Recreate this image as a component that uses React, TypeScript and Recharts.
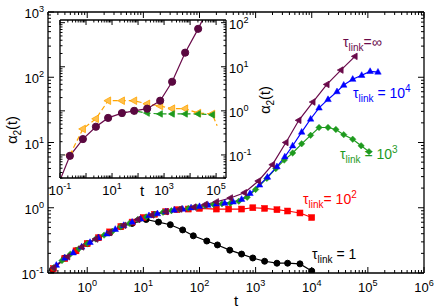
import { LineChart, Line, XAxis, YAxis } from 'recharts'

const FONT = '"Liberation Sans", Arial, Helvetica, sans-serif'

// main panel, values read as log10(t) / log10(alpha2)
const tau1LogT = [-0.62, -0.4, -0.2, 0, 0.2, 0.4, 0.6, 0.8, 1.05, 1.27, 1.48, 1.7, 1.89, 2.13, 2.32, 2.54, 2.75, 2.95, 3.16, 3.38, 3.57, 3.79, 4.0]
const tau1LogA = [-0.95, -0.77, -0.66, -0.55, -0.46, -0.38, -0.29, -0.24, -0.18, -0.22, -0.26, -0.34, -0.43, -0.51, -0.57, -0.65, -0.71, -0.77, -0.82, -0.85, -0.85, -0.86, -0.97]

const tau100LogT = [-0.6, -0.4, -0.2, 0, 0.2, 0.4, 0.6, 0.8, 1.0, 1.2, 1.4, 1.6, 1.8, 2.0, 2.3, 2.52, 2.75, 2.95, 3.16, 3.38, 3.57, 3.79, 4.0]
const tau100LogA = [-0.93, -0.78, -0.66, -0.55, -0.46, -0.37, -0.29, -0.22, -0.15, -0.1, -0.06, -0.03, -0.02, -0.01, -0.02, -0.02, -0.02, 0.0, -0.01, -0.03, -0.05, -0.08, -0.15]

const tau1000LogT = [-0.6, -0.45, -0.3, -0.15, 0, 0.15, 0.3, 0.45, 0.6, 0.75, 0.9, 1.05, 1.2, 1.35, 1.5, 1.65, 1.8, 1.95, 2.1, 2.25, 2.4, 2.55, 2.7, 2.85, 3.0, 3.2, 3.36, 3.51, 3.66, 3.82, 3.98, 4.13, 4.29, 4.43, 4.57, 4.73, 4.88, 5.02]
const tau1000LogA = [-0.92, -0.81, -0.71, -0.63, -0.55, -0.48, -0.42, -0.36, -0.29, -0.24, -0.18, -0.14, -0.1, -0.07, -0.045, -0.025, -0.01, 0.01, 0.03, 0.05, 0.06, 0.07, 0.1, 0.16, 0.28, 0.45, 0.6, 0.73, 0.84, 0.98, 1.11, 1.23, 1.23, 1.2, 1.12, 1.05, 0.95, 0.86]

const tau1e4LogT = [-0.55, -0.4, -0.25, -0.1, 0.05, 0.2, 0.35, 0.5, 0.65, 0.8, 0.95, 1.1, 1.25, 1.4, 1.55, 1.7, 1.85, 2.0, 2.15, 2.3, 2.45, 2.6, 2.75, 2.9, 3.07, 3.21, 3.38, 3.52, 3.66, 3.82, 3.98, 4.13, 4.29, 4.45, 4.57, 4.73, 4.89, 5.04, 5.18]
const tau1e4LogA = [-0.88, -0.77, -0.69, -0.6, -0.53, -0.46, -0.4, -0.33, -0.27, -0.22, -0.17, -0.12, -0.09, -0.06, -0.035, -0.02, 0.0, 0.02, 0.04, 0.06, 0.07, 0.09, 0.13, 0.22, 0.35, 0.47, 0.63, 0.78, 0.95, 1.16, 1.36, 1.53, 1.66, 1.78, 1.88, 1.97, 2.03, 2.09, 2.08]

const tauInfLogT = [-0.6, -0.35, -0.1, 0.15, 0.4, 0.65, 0.9, 1.15, 1.4, 1.65, 1.9, 2.1, 2.3, 2.55, 2.8, 3.05, 3.3, 3.54, 3.77, 4.02, 4.27, 4.52, 4.77]
const tauInfLogA = [-0.92, -0.75, -0.6, -0.48, -0.38, -0.27, -0.18, -0.11, -0.06, -0.02, 0.01, 0.05, 0.09, 0.15, 0.23, 0.41, 0.66, 1.0, 1.34, 1.62, 1.89, 2.11, 2.32]

// inset
const insetMaroonLogT = [-1.12, -0.62, -0.12, 0.38, 0.85, 1.38, 1.85, 2.35, 2.85, 3.31, 3.81, 4.31, 4.8]
const insetMaroonLogA = [-1.75, -1.02, -0.64, -0.36, -0.16, -0.05, 0.0, 0.05, 0.23, 0.66, 1.32, 1.86, 2.45]
const insetOrangeLogT = [-0.62, -0.12, 0.38, 0.85, 1.38, 1.85, 2.35, 2.85, 3.31, 3.81, 4.31, 4.85, 5.04]
const insetOrangeLogA = [-1.0, -0.41, -0.18, 0.23, 0.23, 0.23, 0.16, 0.11, 0.05, 0.05, -0.05, -0.07, -0.34]
const insetGreenLogT = [1.38, 1.85, 2.35, 2.85, 3.31, 3.81, 4.31, 4.85]
const insetGreenLogA = [-0.05, 0.0, -0.05, -0.07, -0.07, -0.07, -0.07, -0.09]

// axes
const mainXDomain = [0.2, 1e6]
const mainYDomain = [0.1, 1000]
const mainXLabels = [0, 1, 2, 3, 4, 5, 6]
const mainYLabels = [-1, 0, 1, 2, 3]
const insetXDomain = [0.1, 2.4e5]
const insetYDomain = [0.03, 115]
const insetXLabels = [-1, 1, 3, 5]
const insetYLabels = [-1, 0, 1, 2]

const MAROON = '#6a0a4a'
const GREEN = '#1e9a1e'
const ORANGE = '#ffa500'

const pts = (lt: number[], la: number[]) => lt.map((v, i) => ({ t: 10 ** v, a: 10 ** la[i] }))

function logTicks(dom: number[]) {
  const out: number[] = []
  const lo = Math.floor(Math.log10(dom[0]))
  const hi = Math.ceil(Math.log10(dom[1]))
  for (let e = lo; e <= hi; e++) for (let m = 1; m <= 9; m++) {
    const v = m * 10 ** e
    if (v >= dom[0] * 0.999 && v <= dom[1] * 1.001) out.push(v)
  }
  return out
}

const expOf = (v: number) => Math.round(Math.log10(v))
const isMajor = (v: number) => Math.abs(Math.log10(v) - expOf(v)) < 1e-6

function Pow({ x, y, e, anchor, size }: { x: number; y: number; e: number; anchor: string; size: number }) {
  return (
    <text x={x} y={y} textAnchor={anchor} fontFamily={FONT} fontSize={size} fill="#000">
      10<tspan dy={-size * 0.45} fontSize={size * 0.7}>{e}</tspan>
    </text>
  )
}

type Side = 'bottom' | 'top' | 'left' | 'right'
function tickFn(side: Side, labels: number[], big: number, small: number, size: number, off: number) {
  return (p: any) => {
    const v = p.payload.value
    const maj = isMajor(v)
    const len = maj ? big : small
    const { x, y } = p
    let line
    if (side === 'bottom') line = <line x1={x} x2={x} y1={y} y2={y - len} stroke="#000" />
    else if (side === 'top') line = <line x1={x} x2={x} y1={y} y2={y + len} stroke="#000" />
    else if (side === 'left') line = <line x1={x} x2={x + len} y1={y} y2={y} stroke="#000" />
    else line = <line x1={x} x2={x - len} y1={y} y2={y} stroke="#000" />
    const show = maj && labels.includes(expOf(v))
    let label = null
    if (show) {
      if (side === 'bottom') label = <Pow x={x} y={y + off} e={expOf(v)} anchor="middle" size={size} />
      else if (side === 'left') label = <Pow x={x - off} y={y + 6} e={expOf(v)} anchor="end" size={size} />
      else if (side === 'right') label = <Pow x={x + off} y={y + 6} e={expOf(v)} anchor="start" size={size} />
    }
    return <g>{line}{label}</g>
  }
}

type Shape = 'circle' | 'square' | 'diamond' | 'triUp' | 'triLeft'
function marker(shape: Shape, color: string, s: number, fill?: string, skipLast?: number) {
  return (p: any) => {
    const { cx, cy, index } = p
    const k = `m-${index}`
    if (cx == null || cy == null || (skipLast != null && index >= skipLast)) return <g key={k} />
    const f = fill ?? color
    if (shape === 'circle') return <circle key={k} cx={cx} cy={cy} r={s} fill={f} stroke={color} />
    if (shape === 'square') return <rect key={k} x={cx - s} y={cy - s} width={2 * s} height={2 * s} fill={f} stroke={color} strokeWidth={0.5} />
    if (shape === 'diamond') return <polygon key={k} points={`${cx},${cy - s} ${cx + s},${cy} ${cx},${cy + s} ${cx - s},${cy}`} fill={f} stroke={color} strokeWidth={0.5} />
    if (shape === 'triUp') return <polygon key={k} points={`${cx},${cy - s} ${cx + s * 0.9},${cy + s * 0.6} ${cx - s * 0.9},${cy + s * 0.6}`} fill={f} stroke={color} strokeWidth={0.5} />
    return <polygon key={k} points={`${cx - s},${cy} ${cx + s * 0.6},${cy - s * 0.9} ${cx + s * 0.6},${cy + s * 0.9}`} fill={f} stroke={color} strokeWidth={0.8} />
  }
}

const axisLine = { stroke: '#000', strokeWidth: 1.3 }

function Tau({ x, y, color, tail, sup }: { x: number; y: number; color: string; tail: string; sup?: string }) {
  return (
    <text x={x} y={y} fontFamily={FONT} fontSize={14} fill={color}>
      τ<tspan dy={4} fontSize={10}>link</tspan>
      <tspan dy={-4}>{tail}</tspan>
      {sup && <tspan dy={-6} fontSize={10}>{sup}</tspan>}
    </text>
  )
}

export default function App() {
  const mxT = logTicks(mainXDomain)
  const myT = logTicks(mainYDomain)
  const ixT = logTicks(insetXDomain)
  const iyT = logTicks(insetYDomain)
  const box = { position: 'absolute' as const, left: 0, top: 0 }
  const orange = pts(insetOrangeLogT, insetOrangeLogA)
  const maroonInset = pts(insetMaroonLogT, insetMaroonLogA)
  const tauInf = pts(tauInfLogT, tauInfLogA)
  return (
    <div style={{ ...box, width: 436, height: 308, background: '#fff' }}>
      <div style={box}>
        <LineChart width={436} height={308} margin={{ top: 11, right: 11, bottom: 0, left: 0 }}>
          <XAxis dataKey="t" type="number" scale="log" domain={mainXDomain} allowDataOverflow ticks={mxT} interval={0}
            height={35} tickSize={0} tickMargin={0} tickLine={false} axisLine={axisLine}
            tick={tickFn('bottom', mainXLabels, 6, 3, 13, 19)} />
          <XAxis xAxisId="top" orientation="top" dataKey="t" type="number" scale="log" domain={mainXDomain} allowDataOverflow ticks={mxT} interval={0}
            height={1} tickSize={0} tickMargin={0} tickLine={false} axisLine={axisLine}
            tick={tickFn('top', [], 6, 3, 13, 0)} />
          <YAxis dataKey="a" type="number" scale="log" domain={mainYDomain} allowDataOverflow ticks={myT} interval={0}
            width={48} tickSize={0} tickMargin={0} tickLine={false} axisLine={axisLine}
            tick={tickFn('left', mainYLabels, 6, 3, 13, 4)} />
          <YAxis yAxisId="right" orientation="right" dataKey="a" type="number" scale="log" domain={mainYDomain} allowDataOverflow ticks={myT} interval={0}
            width={1} tickSize={0} tickMargin={0} tickLine={false} axisLine={axisLine}
            tick={tickFn('right', [], 6, 3, 13, 0)} />
          {/* invisible twin so the mirrored top/right axes get drawn */}
          <Line data={tauInf} xAxisId="top" yAxisId="right" dataKey="a" stroke="none" dot={false} isAnimationActive={false} />
          <Line data={pts(tau1LogT, tau1LogA)} dataKey="a" stroke="#000" strokeWidth={1.2} dot={marker('circle', '#000', 3)} isAnimationActive={false} />
          <Line data={pts(tau100LogT, tau100LogA)} dataKey="a" stroke="#ff0000" strokeWidth={1.2} dot={marker('square', '#ff0000', 3)} isAnimationActive={false} />
          <Line data={pts(tau1000LogT, tau1000LogA)} dataKey="a" stroke={GREEN} strokeWidth={1.2} dot={marker('diamond', GREEN, 3.2)} isAnimationActive={false} />
          <Line data={pts(tau1e4LogT, tau1e4LogA)} dataKey="a" stroke="#0000ff" strokeWidth={1.2} dot={marker('triUp', '#0000ff', 3.6)} isAnimationActive={false} />
          <Line data={tauInf} dataKey="a" stroke={MAROON} strokeWidth={1.2} dot={marker('triLeft', MAROON, 3.6)} isAnimationActive={false} />
        </LineChart>
      </div>
      <div style={box}>
        <LineChart width={436} height={308} margin={{ top: 19, right: 209, bottom: 0, left: 0 }}>
          <XAxis dataKey="t" type="number" scale="log" domain={insetXDomain} allowDataOverflow ticks={ixT} interval={0}
            height={130} tickSize={0} tickMargin={0} tickLine={false} axisLine={axisLine}
            tick={tickFn('bottom', insetXLabels, 5, 2.5, 13, 17)} />
          <XAxis xAxisId="top" orientation="top" dataKey="t" type="number" scale="log" domain={insetXDomain} allowDataOverflow ticks={ixT} interval={0}
            height={1} tickSize={0} tickMargin={0} tickLine={false} axisLine={axisLine}
            tick={tickFn('top', [], 5, 2.5, 13, 0)} />
          <YAxis dataKey="a" type="number" scale="log" domain={insetYDomain} allowDataOverflow ticks={iyT} interval={0}
            width={60} tickSize={0} tickMargin={0} tickLine={false} axisLine={axisLine}
            tick={tickFn('left', [], 5, 2.5, 13, 0)} />
          <YAxis yAxisId="right" orientation="right" dataKey="a" type="number" scale="log" domain={insetYDomain} allowDataOverflow ticks={iyT} interval={0}
            width={1} tickSize={0} tickMargin={0} tickLine={false} axisLine={axisLine}
            tick={tickFn('right', insetYLabels, 5, 2.5, 13, 3)} />
          <Line data={maroonInset} xAxisId="top" yAxisId="right" dataKey="a" stroke="none" dot={false} isAnimationActive={false} />
          <Line data={orange} dataKey="a" stroke={ORANGE} strokeWidth={1.2} strokeDasharray="5 3" dot={marker('triLeft', ORANGE, 4.2, '#ffc04d', orange.length - 1)} isAnimationActive={false} />
          <Line data={pts(insetGreenLogT, insetGreenLogA)} dataKey="a" stroke={GREEN} strokeWidth={1.2} strokeDasharray="5 3" dot={marker('triLeft', GREEN, 3.6)} isAnimationActive={false} />
          <Line data={maroonInset} dataKey="a" stroke={MAROON} strokeWidth={1.2} dot={marker('circle', '#5a0840', 3.6)} isAnimationActive={false} />
        </LineChart>
      </div>
      <svg width={436} height={308} style={box}>
        <text transform="translate(17,130) rotate(-90)" textAnchor="middle" fontFamily={FONT} fontSize={14.5}>
          α<tspan dy={4} fontSize={10}>2</tspan><tspan dy={-4}>(t)</tspan>
        </text>
        <text transform="translate(270,100) rotate(-90)" textAnchor="middle" fontFamily={FONT} fontSize={14.5}>
          α<tspan dy={4} fontSize={10}>2</tspan><tspan dy={-4}>(t)</tspan>
        </text>
        <text x={236} y={306} textAnchor="middle" fontFamily={FONT} fontSize={15}>t</text>
        <text x={142} y={196} textAnchor="middle" fontFamily={FONT} fontSize={15}>t</text>
        <Tau x={343} y={47} color={MAROON} tail="=∞" />
        <Tau x={353} y={98} color="#0000ff" tail=" = 10" sup="4" />
        <Tau x={340} y={159} color={GREEN} tail=" = 10" sup="3" />
        <Tau x={303} y={204} color="#ff0000" tail="= 10" sup="2" />
        <Tau x={312} y={259} color="#000" tail=" = 1" />
      </svg>
    </div>
  )
}
